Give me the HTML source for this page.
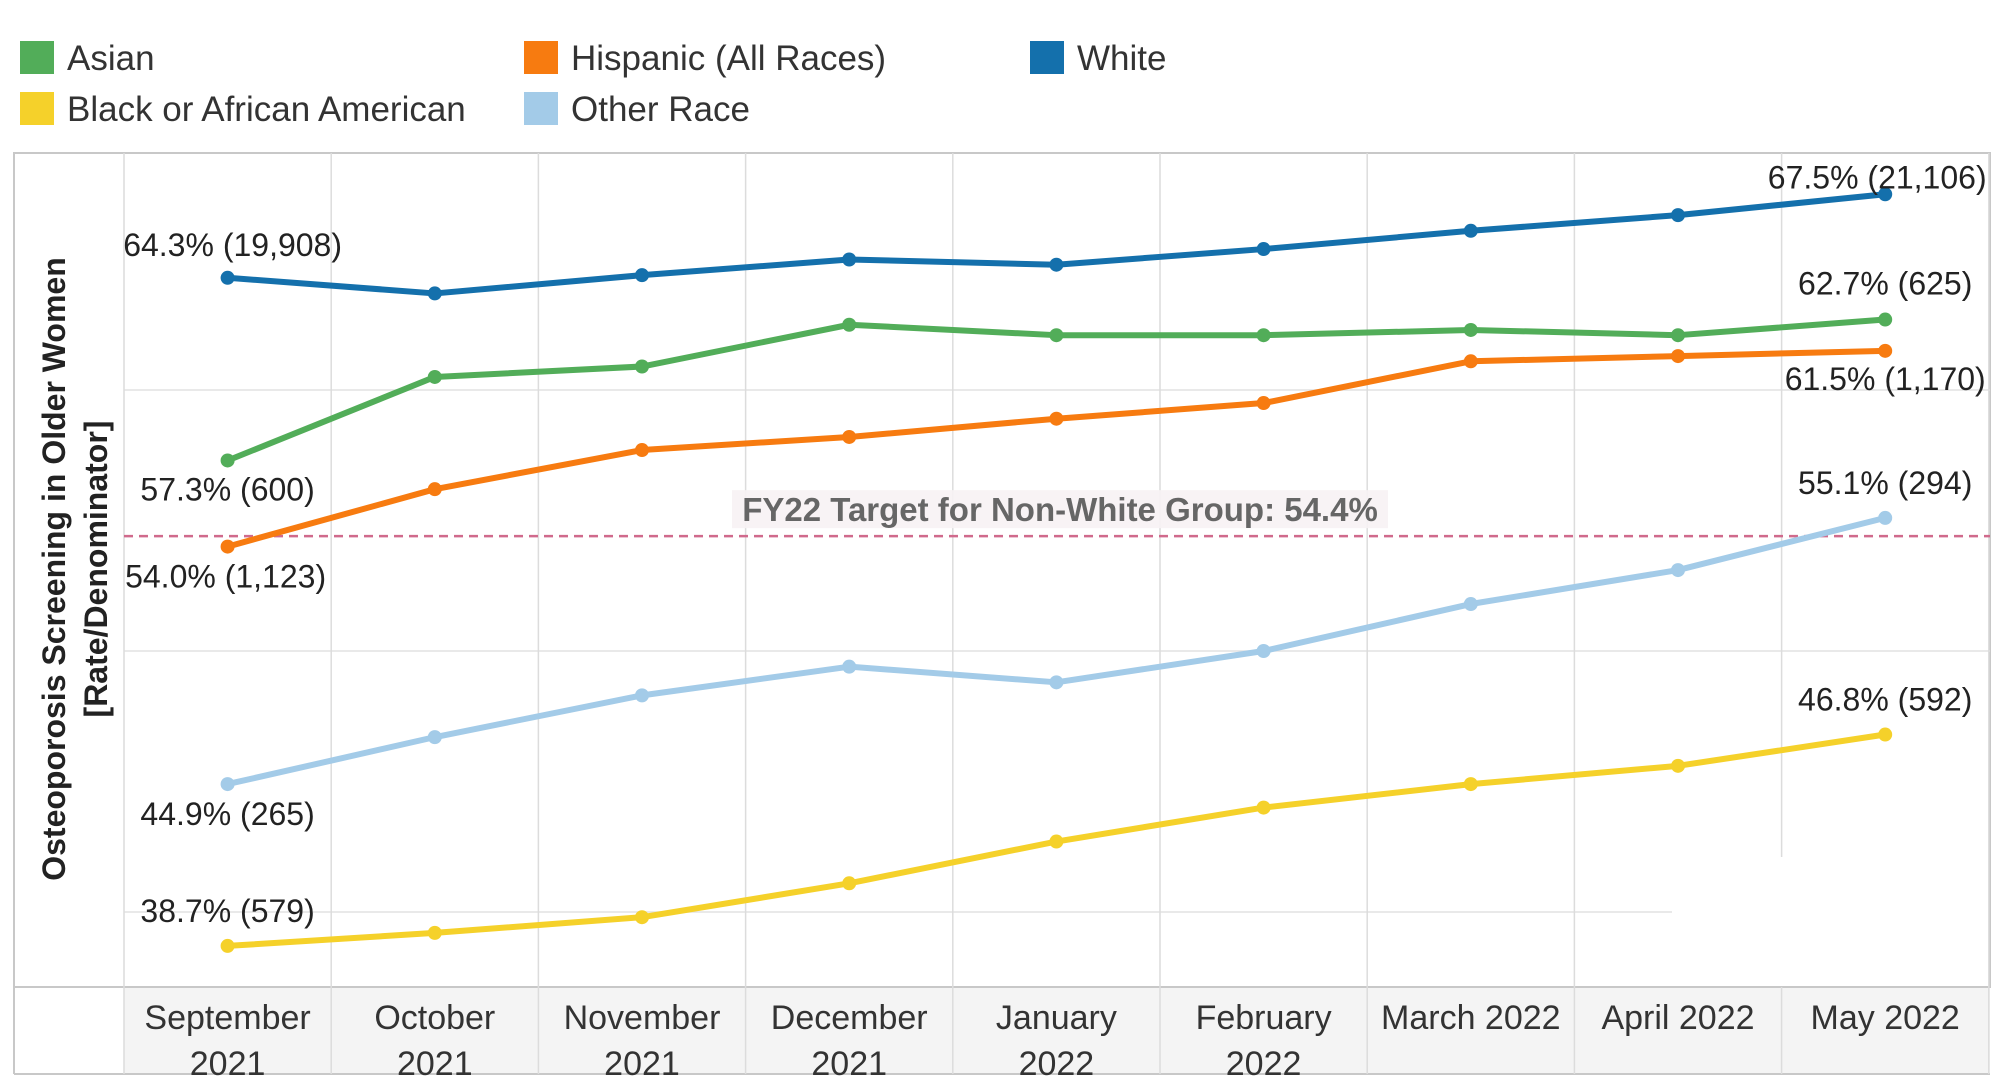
<!DOCTYPE html>
<html><head><meta charset="utf-8">
<style>
body{margin:0;background:#fff;width:2000px;height:1084px;overflow:hidden;font-family:"Liberation Sans",sans-serif;}
svg{display:block}
</style></head>
<body>
<svg id="chart" width="2000" height="1084" xmlns="http://www.w3.org/2000/svg"></svg>
<script>
const months=["September|2021","October|2021","November|2021","December|2021","January|2022","February|2022","March 2022","April 2022","May 2022"];
const white=[64.3,63.7,64.4,65.0,64.8,65.4,66.1,66.7,67.5];
const asian=[57.3,60.5,60.9,62.5,62.1,62.1,62.3,62.1,62.7];
const hispanic=[54.0,56.2,57.7,58.2,58.9,59.5,61.1,61.3,61.5];
const other=[44.9,46.7,48.3,49.4,48.8,50.0,51.8,53.1,55.1];
const black=[38.7,39.2,39.8,41.1,42.7,44.0,44.9,45.6,46.8];
const gridTicks=[60,50,40];
const target=54.4;
const startLabels=["64.3% (19,908)","57.3% (600)","54.0% (1,123)","44.9% (265)","38.7% (579)"];
const endLabels=["67.5% (21,106)","62.7% (625)","61.5% (1,170)","55.1% (294)","46.8% (592)"];

const svg=document.getElementById('chart');
const NS='http://www.w3.org/2000/svg';
function mk(t,a,p){const e=document.createElementNS(NS,t);for(const k in a)e.setAttribute(k,a[k]);(p||svg).appendChild(e);return e;}
const colW=207.2, x0=124;
function x(i){return x0+colW*(i+0.5);}
function y(v){return 390+(60-v)*26.1;}
const plotTop=153,plotBot=987;

let band=mk('rect',{x:x0,y:plotBot,width:1990-x0,height:87,fill:'#f4f4f4'});


let fr=mk('rect',{x:14,y:plotTop,width:1976,height:plotBot-plotTop,fill:'none',stroke:'#c8c8c8','stroke-width':2});


mk('line',{x1:14,y1:plotBot,x2:14,y2:1074,stroke:'#c8c8c8','stroke-width':2});
mk('line',{x1:14,y1:1074,x2:1990,y2:1074,stroke:'#c8c8c8','stroke-width':2});
gridTicks.forEach((t)=>{
  const g=mk('line',{x1:x0,y1:y(t),x2:t===40?1672:1990,y2:y(t),stroke:'#e2e2e2','stroke-width':1.5});
  
  
});
for(let i=0;i<=months.length;i++){
  const xx=x0+colW*i;
  const yEnd=(i===8)?857:1074;
  const l=mk('line',{x1:xx,y1:plotTop,x2:xx,y2:yEnd,stroke:'#dcdcdc','stroke-width':1.5});
  
  
  if(i===8){mk('line',{x1:xx,y1:plotBot,x2:xx,y2:1074,stroke:'#dcdcdc','stroke-width':1.5});}
}
months.forEach((m,i)=>{
  const parts=m.split('|');
  parts.forEach((p,j)=>{
    const t=mk('text',{x:x(i),y:1029+j*46,'text-anchor':'middle','font-size':34,fill:'#333'});
    t.textContent=p;
    
    
  });
});
const tl=mk('line',{x1:x0,y1:y(target),x2:1990,y2:y(target),stroke:'#d06a8c','stroke-width':2.5,'stroke-dasharray':'9 6'});


const tbg=mk('rect',{x:732,y:y(target)-46,width:656,height:38,fill:'#f7f2f4',opacity:0.9});


const tt=mk('text',{x:1060,y:y(target)-15,'text-anchor':'middle','font-size':33,'font-weight':'bold',fill:'#666'});
tt.textContent='FY22 Target for Non-White Group: '+target.toFixed(1)+'%';



const series=[
 {n:'white',d:white,c:'#1470ac',s:[5,-33],e:[-8,-17]},
 {n:'asian',d:asian,c:'#52ad59',s:[0,29],e:[0,-36]},
 {n:'hispanic',d:hispanic,c:'#f77b10',s:[-2,30],e:[0,28]},
 {n:'other',d:other,c:'#a3cbe8',s:[0,30],e:[0,-35]},
 {n:'black',d:black,c:'#f5d12a',s:[0,-35],e:[0,-35]}
];
series.forEach((s,k)=>{
  const g=mk('g',{});
  
  
  const pts=s.d.map((v,i)=>x(i)+','+y(v)).join(' ');
  const pl=mk('polyline',{points:pts,fill:'none',stroke:s.c,'stroke-width':6,'stroke-linejoin':'round'},g);
  
  
  s.d.forEach((v,i)=>{
    const c=mk('circle',{cx:x(i),cy:y(v),r:7,fill:s.c},g);
    
    
  });
  const a=mk('text',{x:x(0)+s.s[0],y:y(s.d[0])+s.s[1]+11,'text-anchor':'middle','font-size':32,fill:'#222'});
  a.textContent=startLabels[k];
  
  
  const b=mk('text',{x:x(8)+s.e[0],y:y(s.d[8])+s.e[1]+11,'text-anchor':'middle','font-size':32,fill:'#222'});
  b.textContent=endLabels[k];
  
  
});

const yt=mk('text',{transform:'translate(65,569) rotate(-90)','text-anchor':'middle','font-size':32,'font-weight':'600',fill:'#222'});
yt.textContent='Osteoporosis Screening in Older Women';


const yt2=mk('text',{transform:'translate(107,569) rotate(-90)','text-anchor':'middle','font-size':32,'font-weight':'600',fill:'#222'});
yt2.textContent='[Rate/Denominator]';



const legend=[["Asian","#52ad59",20,41],["Black or African American","#f5d12a",20,92],["Hispanic (All Races)","#f77b10",524,41],["Other Race","#a3cbe8",524,92],["White","#1470ac",1030,41]];
legend.forEach(l=>{
  const g=mk('g',{});
  
  
  mk('rect',{x:l[2],y:l[3],width:34,height:33,fill:l[1]},g);
  const t=mk('text',{x:l[2]+47,y:l[3]+29,'font-size':35,fill:'#333'},g);
  t.textContent=l[0];
});
</script>
</body></html>
